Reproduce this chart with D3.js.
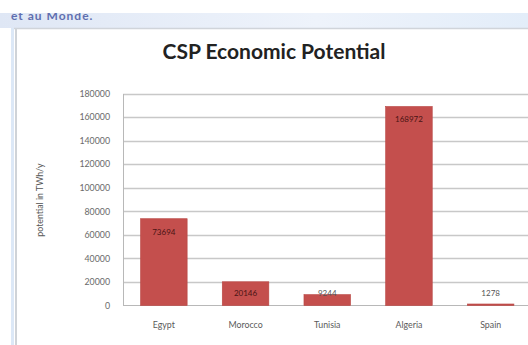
<!DOCTYPE html>
<html>
<head>
<meta charset="utf-8">
<script src="https://cdn.jsdelivr.net/npm/d3@7"></script>
<style>
  html, body { margin: 0; padding: 0; background: #fff; }
  svg { display: block; }
</style>
</head>
<body>
<svg id="chart" width="528" height="345"></svg>
<script>
// CSP economic potential by country (TWh/y)
const countries = ["Egypt", "Morocco", "Tunisia", "Algeria", "Spain"];
const potential = [73694, 20146, 9244, 168972, 1278];
const yTicks = [0, 20000, 40000, 60000, 80000, 100000, 120000, 140000, 160000, 180000];

const svg = d3.select("#chart");
const W = 528, H = 345;
const font = "Lato, 'Open Sans', sans-serif";

// page header strip and slide frame
const defs = svg.append("defs");
const g1 = defs.append("linearGradient").attr("id", "hdr").attr("x1", 0).attr("x2", 1);
g1.append("stop").attr("offset", 0).attr("stop-color", "#dfe7f5");
g1.append("stop").attr("offset", 0.6).attr("stop-color", "#eef3fb");
g1.append("stop").attr("offset", 1).attr("stop-color", "#e3edf9");
svg.append("rect").attr("x", 0).attr("y", 13).attr("width", W).attr("height", 15).attr("fill", "url(#hdr)");
svg.append("clipPath").attr("id", "hclip").append("rect").attr("x", 0).attr("y", 13).attr("width", W).attr("height", 15);
svg.append("text").attr("x", 11).attr("y", 19.5).attr("clip-path", "url(#hclip)")
  .attr("font-family", font).attr("font-size", 12).attr("font-weight", 700)
  .attr("letter-spacing", 1).attr("fill", "#4a5aa4").attr("opacity", 0.85).text("et au Monde.");
svg.append("line").attr("x1", 14).attr("x2", W).attr("y1", 28.5).attr("y2", 28.5)
  .attr("stroke", "#d0d4da").attr("stroke-width", 1.5);
svg.append("rect").attr("x", 11).attr("y", 28).attr("width", 3).attr("height", H - 28).attr("fill", "#dce8f7");
svg.append("line").attr("x1", 16).attr("x2", 16).attr("y1", 29).attr("y2", H)
  .attr("stroke", "#cfd3d8").attr("stroke-width", 2);

// title
svg.append("text").attr("x", 274).attr("y", 59).attr("text-anchor", "middle")
  .attr("font-family", font).attr("font-size", 21).attr("font-weight", 700)
  .attr("fill", "#222").text("CSP Economic Potential");

// plot area
const plotLeft = 123, plotRight = 531.5, plotTop = 93.5, plotBottom = 305.5;
const x = d3.scaleBand().domain(countries).range([plotLeft, plotRight]).paddingInner(0.43).paddingOuter(0.215);
const y = d3.scaleLinear().domain([0, 180000]).range([plotBottom, plotTop]);

// gridlines
svg.append("g").selectAll("line").data(yTicks.slice(1)).join("line")
  .attr("x1", plotLeft).attr("x2", plotRight)
  .attr("y1", d => Math.round(y(d)) + 0.5).attr("y2", d => Math.round(y(d)) + 0.5)
  .attr("stroke", "#c8c8c8").attr("stroke-width", 1.3);

// y axis
const yAxis = svg.append("g").attr("transform", `translate(${plotLeft},0)`)
  .call(d3.axisLeft(y).tickValues(yTicks).tickSize(0).tickPadding(13).tickFormat(d3.format("d")));
yAxis.select(".domain").attr("stroke", "#b8b8b8");
yAxis.selectAll("text").attr("font-family", font).attr("font-size", 8.8).attr("fill", "#6a6a6a");

// baseline
svg.append("line").attr("x1", plotLeft).attr("x2", plotRight).attr("y1", plotBottom).attr("y2", plotBottom)
  .attr("stroke", "#b8b8b8");

// x axis labels
const xAxis = svg.append("g").attr("transform", `translate(0,${plotBottom})`)
  .call(d3.axisBottom(x).tickSize(0).tickPadding(16));
xAxis.select(".domain").remove();
xAxis.selectAll("text").attr("font-family", font).attr("font-size", 8.8).attr("fill", "#5a5a5a");

// y axis title
svg.append("text").attr("transform", "translate(43,200) rotate(-90)")
  .attr("text-anchor", "middle").attr("font-family", font).attr("font-size", 8.8)
  .attr("fill", "#555").text("potential in TWh/y");

// bars
const data = countries.map((c, i) => ({ c, v: potential[i] }));
svg.append("g").selectAll("rect").data(data).join("rect")
  .attr("x", d => x(d.c)).attr("width", x.bandwidth())
  .attr("y", d => y(d.v)).attr("height", d => plotBottom - y(d.v))
  .attr("fill", "#c44f4d").attr("stroke", "#b84542").attr("stroke-width", 0.6);

// value labels
svg.append("g").selectAll("text").data(data).join("text")
  .attr("x", d => x(d.c) + x.bandwidth() / 2)
  .attr("y", d => Math.min(y(d.v) + 13, plotBottom - 12))
  .attr("dy", "0.35em").attr("text-anchor", "middle")
  .attr("font-family", font).attr("font-size", 8)
  .attr("fill", d => (plotBottom - y(d.v)) > 20 ? "#4a1414" : "#555")
  .text(d => d.v);
</script>
</body>
</html>
